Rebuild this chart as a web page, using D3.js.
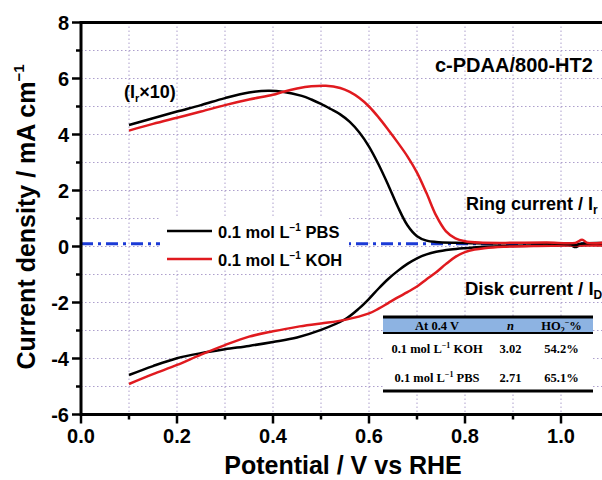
<!DOCTYPE html>
<html>
<head>
<meta charset="utf-8">
<script src="https://cdn.jsdelivr.net/npm/d3@7"></script>
<style>
body { margin: 0; background: #fff; }
text { font-family: Arial, "Liberation Sans", sans-serif; font-weight: bold; }
.tbl text { font-family: "Times New Roman", "Liberation Serif", serif; }
</style>
</head>
<body>
<div id="chart"></div>
<script>
// [potential V, current density mA cm-2]
var ringPBS = [[0.10,4.34],[0.15,4.58],[0.20,4.82],[0.25,5.05],[0.30,5.30],[0.35,5.50],[0.39,5.56],[0.42,5.53],[0.46,5.38],[0.48,5.25],[0.50,5.09],[0.52,4.91],[0.54,4.72],[0.56,4.45],[0.58,4.07],[0.60,3.57],[0.62,2.93],[0.64,2.20],[0.66,1.42],[0.68,0.76],[0.70,0.37],[0.72,0.21],[0.74,0.16],[0.78,0.13],[0.85,0.11],[0.92,0.12],[0.98,0.11],[1.02,0.08],[1.03,0.05],[1.04,0.10],[1.09,0.12]]
var ringKOH = [[0.10,4.14],[0.15,4.38],[0.20,4.60],[0.25,4.82],[0.30,5.05],[0.35,5.25],[0.40,5.42],[0.42,5.52],[0.45,5.64],[0.48,5.72],[0.51,5.74],[0.54,5.66],[0.56,5.52],[0.58,5.30],[0.60,5.00],[0.62,4.61],[0.64,4.17],[0.66,3.71],[0.68,3.22],[0.70,2.64],[0.72,1.90],[0.74,1.10],[0.76,0.55],[0.78,0.29],[0.80,0.19],[0.83,0.14],[0.90,0.13],[0.97,0.14],[1.03,0.13],[1.044,0.24],[1.055,0.13],[1.09,0.14]]
var diskPBS = [[0.10,-4.59],[0.15,-4.27],[0.20,-3.99],[0.25,-3.81],[0.30,-3.67],[0.35,-3.55],[0.40,-3.41],[0.45,-3.25],[0.50,-2.98],[0.55,-2.60],[0.58,-2.20],[0.60,-1.87],[0.62,-1.50],[0.64,-1.16],[0.66,-0.87],[0.68,-0.62],[0.70,-0.42],[0.72,-0.28],[0.74,-0.19],[0.77,-0.11],[0.80,-0.06],[0.84,-0.01],[0.90,0.02],[0.98,0.04],[1.02,0.04],[1.03,-0.02],[1.04,0.04],[1.09,0.05]]
var diskKOH = [[0.10,-4.91],[0.15,-4.56],[0.20,-4.23],[0.25,-3.86],[0.30,-3.52],[0.35,-3.22],[0.40,-3.03],[0.45,-2.87],[0.50,-2.75],[0.55,-2.62],[0.60,-2.39],[0.62,-2.22],[0.64,-2.02],[0.66,-1.82],[0.68,-1.63],[0.70,-1.43],[0.72,-1.17],[0.74,-0.92],[0.76,-0.63],[0.78,-0.37],[0.80,-0.20],[0.82,-0.11],[0.84,-0.06],[0.88,-0.01],[0.95,0.02],[1.09,0.04]]
var baseLevel = 0.1

var xTicks = [0.0, 0.2, 0.4, 0.6, 0.8, 1.0]
var yTicks = [-6, -4, -2, 0, 2, 4, 6, 8]
var electrolytes = ["PBS", "KOH"]
var tableHead = ["At 0.4 V", "n", "HO2-%"]
var tableRows = [["KOH", "3.02", "54.2%"], ["PBS", "2.71", "65.1%"]]

var width = 602
var height = 480

var x = d3.scaleLinear().domain([0, 1.0875]).range([81, 603])
var y = d3.scaleLinear().domain([-6, 8]).range([414.5, 22.5])
var color = d3.scaleOrdinal().domain(electrolytes).range(["#000000", "#e01a1f"])

var svg = d3.select("#chart").append("svg")
  .attr("width", width)
  .attr("height", height)

svg.append("clipPath").attr("id", "plot")
  .append("rect")
  .attr("x", x(0)).attr("y", y(8))
  .attr("width", width - x(0)).attr("height", y(-6) - y(8))

// dotted grid
var grid = svg.append("g")
  .attr("stroke", "#ad9fcc")
  .attr("stroke-width", 1)
  .attr("stroke-dasharray", "1.5,2.5")
grid.selectAll(".gx")
  .data(d3.range(1, 11).map(d => d / 10))
  .enter().append("line")
  .attr("x1", d => x(d)).attr("x2", d => x(d))
  .attr("y1", y(8)).attr("y2", y(-6))
grid.selectAll(".gy")
  .data(d3.range(-5, 8))
  .enter().append("line")
  .attr("x1", x(0)).attr("x2", width)
  .attr("y1", d => y(d)).attr("y2", d => y(d))

var plot = svg.append("g").attr("clip-path", "url(#plot)")

// baseline (dash dot)
plot.append("line")
  .attr("x1", x(0)).attr("x2", x(1.09))
  .attr("y1", y(baseLevel)).attr("y2", y(baseLevel))
  .attr("stroke", "#1b3ad6")
  .attr("stroke-width", 3)
  .attr("stroke-dasharray", "12,5,3,5")

var line = d3.line()
  .x(d => x(d[0]))
  .y(d => y(d[1]))
  .curve(d3.curveCatmullRom.alpha(0.5))

var curves = [
  {key: "PBS", values: diskPBS},
  {key: "KOH", values: diskKOH},
  {key: "PBS", values: ringPBS},
  {key: "KOH", values: ringKOH}
]

plot.selectAll(".curve")
  .data(curves)
  .enter().append("path")
  .attr("class", "curve")
  .attr("fill", "none")
  .attr("stroke", d => color(d.key))
  .attr("stroke-width", 2.5)
  .attr("stroke-linejoin", "round")
  .attr("d", d => line(d.values))

// legend, white box hides grid and baseline
var legend = svg.append("g")
legend.append("rect")
  .attr("x", 160).attr("y", 216)
  .attr("width", 189).attr("height", 54)
  .attr("fill", "#fff")
var li = legend.selectAll(".li")
  .data(electrolytes)
  .enter().append("g")
  .attr("transform", (d, i) => "translate(0," + (231 + i * 28) + ")")
li.append("line")
  .attr("x1", 167).attr("x2", 212)
  .attr("stroke", d => color(d))
  .attr("stroke-width", 2.5)
var lt = li.append("text")
  .attr("x", 218).attr("y", 6.5)
  .style("font-size", "16.5px")
lt.append("tspan").text("0.1 mol L")
lt.append("tspan").attr("dy", -7).style("font-size", "10px").text("\u22121")
lt.append("tspan").attr("dy", 7).text(d => " " + d)

// axes
var axes = svg.append("g").attr("stroke", "#000")
axes.append("line").attr("x1", x(0)).attr("x2", x(0)).attr("y1", y(8) - 1.5).attr("y2", y(-6) + 1.5).attr("stroke-width", 3)
axes.append("line").attr("x1", x(0)).attr("x2", width).attr("y1", y(-6)).attr("y2", y(-6)).attr("stroke-width", 3)
axes.append("line").attr("x1", x(0)).attr("x2", width).attr("y1", y(8)).attr("y2", y(8)).attr("stroke-width", 3)

axes.selectAll(".ty")
  .data(d3.range(-6, 9))
  .enter().append("line")
  .attr("x1", d => x(0) - (d % 2 === 0 ? 9 : 5)).attr("x2", x(0))
  .attr("y1", d => y(d)).attr("y2", d => y(d))
  .attr("stroke-width", 2.5)
axes.selectAll(".tx")
  .data(d3.range(0, 11).map(d => d / 10))
  .enter().append("line")
  .attr("x1", d => x(d)).attr("x2", d => x(d))
  .attr("y1", y(-6)).attr("y2", d => y(-6) + (Math.round(d * 10) % 2 === 0 ? 9 : 5))
  .attr("stroke-width", 2.5)

svg.selectAll(".ly")
  .data(yTicks)
  .enter().append("text")
  .attr("x", 69).attr("y", d => y(d) + 7)
  .attr("text-anchor", "end")
  .style("font-size", "20px")
  .text(d => d)
svg.selectAll(".lx")
  .data(xTicks)
  .enter().append("text")
  .attr("x", d => x(d)).attr("y", 443)
  .attr("text-anchor", "middle")
  .style("font-size", "20px")
  .text(d => d3.format(".1f")(d))

svg.append("text")
  .attr("x", 343).attr("y", 474)
  .attr("text-anchor", "middle")
  .style("font-size", "25px")
  .text("Potential / V vs RHE")

var yl = svg.append("text")
  .attr("transform", "rotate(-90)")
  .attr("x", -217).attr("y", 35)
  .attr("text-anchor", "middle")
  .style("font-size", "25px")
yl.append("tspan").text("Current density / mA cm")
yl.append("tspan").attr("dy", -11).style("font-size", "15px").text("\u22121")

// annotations
svg.append("text")
  .attr("x", 435).attr("y", 72)
  .style("font-size", "20px")
  .text("c-PDAA/800-HT2")

var ir = svg.append("text").attr("x", 124).attr("y", 98).style("font-size", "18px")
ir.append("tspan").text("(I")
ir.append("tspan").attr("dy", 4).style("font-size", "11px").text("r")
ir.append("tspan").attr("dy", -4).text("\u00d710)")

var rc = svg.append("text").attr("x", 466).attr("y", 210).style("font-size", "18px")
rc.append("tspan").text("Ring current / I")
rc.append("tspan").attr("dy", 4).style("font-size", "12px").text("r")

var dc = svg.append("text").attr("x", 465).attr("y", 295).style("font-size", "18.5px")
dc.append("tspan").text("Disk current / I")
dc.append("tspan").attr("dy", 4).style("font-size", "12px").text("D")

// table
var tbl = svg.append("g").attr("class", "tbl")
var colX = [437, 510.5, 561.5]
tbl.append("rect").attr("x", 383).attr("y", 316).attr("width", 210).attr("height", 76).attr("fill", "#fff")
tbl.append("rect").attr("x", 383).attr("y", 318).attr("width", 210).attr("height", 15).attr("fill", "#8db3e2")
tbl.append("line").attr("x1", 383).attr("x2", 593).attr("y1", 317).attr("y2", 317).attr("stroke", "#000").attr("stroke-width", 3)
tbl.append("line").attr("x1", 383).attr("x2", 593).attr("y1", 333).attr("y2", 333).attr("stroke", "#000").attr("stroke-width", 2)
tbl.append("line").attr("x1", 383).attr("x2", 593).attr("y1", 391).attr("y2", 391).attr("stroke", "#000").attr("stroke-width", 3)

tbl.append("text").attr("x", colX[0]).attr("y", 330).attr("text-anchor", "middle").style("font-size", "12.5px").text(tableHead[0])
tbl.append("text").attr("x", colX[1]).attr("y", 330).attr("text-anchor", "middle").style("font-size", "12.5px").style("font-style", "italic").text(tableHead[1])
var ho = tbl.append("text").attr("x", colX[2]).attr("y", 330).attr("text-anchor", "middle").style("font-size", "12.5px")
ho.append("tspan").text("HO")
ho.append("tspan").attr("dy", 3).style("font-size", "8px").text("2")
ho.append("tspan").attr("dy", -8).style("font-size", "8px").text("\u2212")
ho.append("tspan").attr("dy", 5).text("%")

var tr = tbl.selectAll(".tr")
  .data(tableRows)
  .enter().append("g")
  .attr("transform", (d, i) => "translate(0," + (353 + i * 29) + ")")
var t0 = tr.append("text").attr("x", colX[0]).attr("text-anchor", "middle").style("font-size", "12.5px")
t0.append("tspan").text("0.1 mol L")
t0.append("tspan").attr("dy", -5).style("font-size", "8px").text("\u22121")
t0.append("tspan").attr("dy", 5).text(d => " " + d[0])
tr.append("text").attr("x", colX[1]).attr("text-anchor", "middle").style("font-size", "12.5px").text(d => d[1])
tr.append("text").attr("x", colX[2]).attr("text-anchor", "middle").style("font-size", "12.5px").text(d => d[2])
</script>
</body>
</html>
